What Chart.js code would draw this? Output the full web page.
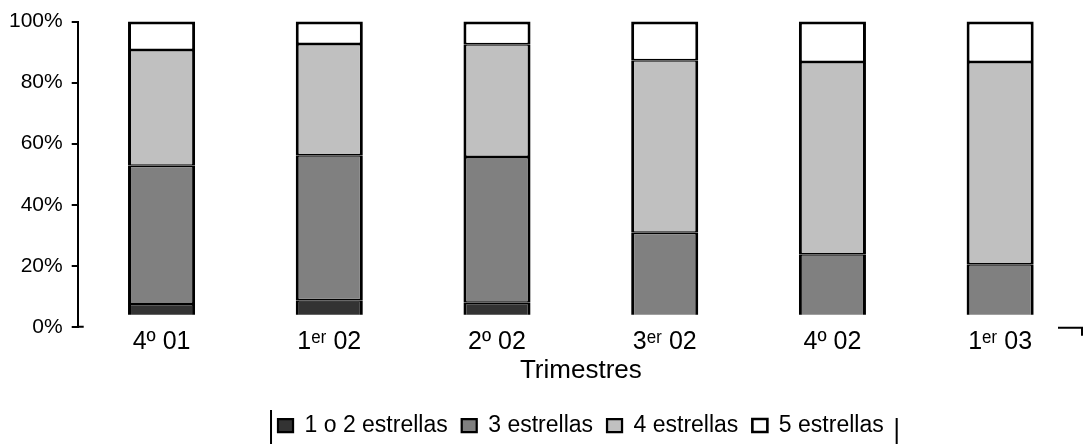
<!DOCTYPE html>
<html lang="es">
<head>
<meta charset="utf-8">
<title>Estrellas por trimestre</title>
<script src="https://cdn.jsdelivr.net/npm/chart.js@4/dist/chart.umd.min.js"></script>
<style>
  html, body { margin: 0; padding: 0; background: #fff; }
  #wrap { width: 1086px; height: 444px; position: relative; }
</style>
</head>
<body>
<div id="wrap"><canvas id="chart"></canvas></div>
<script>
  // Trimestres (ordinales con superíndice)
  const trimestres = ['4º 01', '1ᵉʳ 02', '2º 02', '3ᵉʳ 02', '4º 02', '1ᵉʳ 03'];

  // porcentaje de cada categoría
  const unaODosEstrellas = [7.5, 8.7, 7.9, 0, 0, 0];
  const tresEstrellas = [45.3, 47.5, 47.7, 30.8, 23.8, 20.5];
  const cuatroEstrellas = [37.9, 36.5, 37.0, 56.5, 63.0, 66.3];
  const cincoEstrellas = [9.3, 7.3, 7.4, 12.7, 13.2, 13.2];

  const yTicks = [0, 20, 40, 60, 80, 100];

  const FONT = '"Liberation Sans", Arial, sans-serif';

  function serie(label, data, color, topBorder) {
    return {
      label,
      data,
      backgroundColor: color,
      borderColor: '#000',
      borderWidth: { top: topBorder, bottom: 1.5, left: 3, right: 3 },
      borderSkipped: false,
      categoryPercentage: 1,
      barPercentage: 0.4,
      clip: { left: 5, top: 5, right: 5, bottom: -12 },
    };
  }

  // detalles sueltos del original: cruz en 0%, bordes de la leyenda y esquina
  const extras = {
    id: 'extras',
    afterDraw(chart) {
      const { ctx, chartArea, scales, legend } = chart;
      const y0 = scales.y.getPixelForValue(0);
      ctx.save();
      ctx.strokeStyle = '#000';
      ctx.lineWidth = 2;
      ctx.beginPath();
      ctx.moveTo(chartArea.left, y0);
      ctx.lineTo(chartArea.left + 6, y0);
      // marca en la esquina derecha
      ctx.moveTo(chartArea.right - 26, y0 + 1);
      ctx.lineTo(chartArea.right - 2, y0 + 1);
      ctx.lineTo(chartArea.right - 2, y0 + 9);
      const boxes = legend.legendHitBoxes;
      if (boxes && boxes.length) {
        const first = boxes[0];
        const last = boxes[boxes.length - 1];
        ctx.moveTo(first.left - 7, first.top - 4);
        ctx.lineTo(first.left - 7, chart.height);
        ctx.moveTo(last.left + last.width + 13, first.top + 4);
        ctx.lineTo(last.left + last.width + 13, chart.height);
      }
      ctx.stroke();
      ctx.restore();
    },
  };

  new Chart(document.getElementById('chart'), {
    type: 'bar',
    data: {
      labels: trimestres,
      datasets: [
        serie('1 o 2 estrellas', unaODosEstrellas, '#333333', 1.5),
        serie('3 estrellas', tresEstrellas, '#808080', 1.5),
        serie('4 estrellas', cuatroEstrellas, '#c0c0c0', 1.5),
        serie('5 estrellas', cincoEstrellas, '#ffffff', 3),
      ],
    },
    options: {
      responsive: true,
      maintainAspectRatio: false,
      animation: false,
      layout: { padding: { top: 4, left: 0, right: 2, bottom: -3 } },
      plugins: {
        tooltip: { enabled: false },
        legend: {
          position: 'bottom',
          fullSize: false,
          labels: {
            color: '#000',
            font: { family: FONT, size: 23 },
            boxWidth: 15,
            boxHeight: 13,
            padding: 14,
          },
        },
      },
      scales: {
        x: {
          stacked: true,
          grid: { display: false },
          border: { display: false },
          ticks: { color: '#000', font: { family: FONT, size: 25 }, padding: -8 },
          title: {
            display: true,
            text: 'Trimestres',
            color: '#000',
            font: { family: FONT, size: 26 },
            padding: { top: 6, bottom: 14 },
          },
        },
        y: {
          stacked: true,
          min: 0,
          max: 100,
          afterBuildTicks: (axis) => { axis.ticks = yTicks.map((v) => ({ value: v })); },
          grid: { drawOnChartArea: false, drawTicks: true, tickLength: 6, color: '#000', lineWidth: 2 },
          border: { display: true, color: '#000', width: 2 },
          ticks: {
            color: '#000',
            font: { family: FONT, size: 21 },
            padding: 9,
            callback: (v) => v + '%',
          },
        },
      },
    },
    plugins: [extras],
  });
</script>
</body>
</html>
